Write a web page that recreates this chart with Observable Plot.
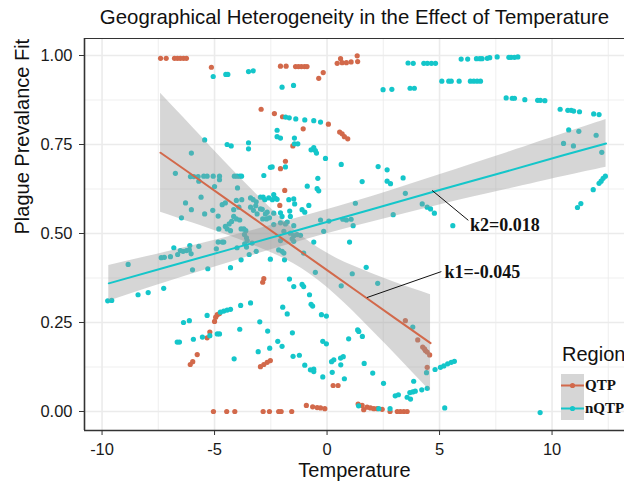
<!DOCTYPE html>
<html><head><meta charset="utf-8">
<script src="https://cdn.jsdelivr.net/npm/d3@7"></script>
<script src="https://cdn.jsdelivr.net/npm/@observablehq/plot@0.6"></script>
<style>
html,body{margin:0;padding:0;background:#fff;overflow:hidden}
#wrap{position:relative;width:624px;height:481px;overflow:hidden;font-family:"Liberation Sans",Arial,sans-serif}
#legend{position:absolute;left:561px;top:343px;width:80px}
#legend .ttl{font-size:20px;color:#111;line-height:22px;margin-bottom:9px;margin-left:1px}
#legend .row{display:flex;align-items:center;height:23px}
#legend .lab{font-family:"Liberation Serif","Times New Roman",serif;font-weight:bold;font-size:15px;color:#111;margin-left:1px}
</style></head><body><div id="wrap"></div>
<script>
const title = "Geographical Heterogeneity in the Effect of Temperature";
const xLabel = "Temperature";
const yLabel = "Plague Prevalance Fit";
const regions = ["QTP", "nQTP"];
const colors = ["#D2694B", "#14C6CA"];
const xTicks = [-10, -5, 0, 5, 10];
const xMinor = [-7.5, -2.5, 2.5, 7.5, 12.5];
const yTicks = [0, 0.25, 0.5, 0.75, 1];
const yMinor = [0.125, 0.375, 0.625, 0.875];
const xDomain = [-10.78, 13.22];
const yDomain = [-0.0534, 1.0478];

// QTP points [temperature, fit]
const qtpPts = [
[-7.40,0.992],[-7.15,0.992],[-6.78,0.992],[-6.65,0.992],[-6.52,0.992],[-6.38,0.992],[-6.25,0.992],
[-5.14,0.967],[-2.93,0.849],[-2.07,0.970],[-1.82,0.970],[-1.40,0.969],[-1.27,0.969],[-1.14,0.969],[-1.00,0.969],[-0.89,0.969],
[-0.37,0.936],[-0.17,0.952],[0.45,0.978],[0.60,0.991],[0.67,0.980],[0.86,0.980],[1.07,0.982],[1.34,0.999],[1.36,0.983],
[-2.34,0.837],[-1.98,0.828],[0.06,0.807],[-1.06,0.794],[0.56,0.785],[0.67,0.780],[0.77,0.772],[0.92,0.766],
[-1.52,0.746],[-1.85,0.703],[-2.07,0.682],[-1.88,0.621],[-2.10,0.579],[-2.81,0.373],[-2.86,0.363],
[3.48,0.255],[4.03,0.201],[4.25,0.181],[4.33,0.176],[4.37,0.171],[4.45,0.167],[4.56,0.159],[4.45,0.124],
[-2.52,0.143],[-2.66,0.138],[-2.81,0.132],[-2.96,0.126],[0.27,0.073],[0.49,0.073],
[-2.84,0],[-2.56,0],[-2.15,0],[-2.04,0],[-1.57,0],
[-0.92,0.017],[-0.64,0.013],[-0.44,0.011],[-0.29,0.010],[-0.10,0.008],
[1.38,0.021],[1.56,0.017],[1.63,0.005],[1.78,0.012],[1.93,0.010],[2.08,0.008],[2.23,0.008],[2.45,0.006],
[2.80,0],[3.12,0],[3.26,0],[3.41,0],[3.56,0],
[-5.00,0.253],[-4.95,0.265],[-4.88,0.272],[-4.78,0.275],[-5.33,0.207],[-5.21,0.223],
[-6.08,0.132],[-5.97,0.140],[-5.77,0.160],[-5.05,0],[-4.46,0],[-4.10,0]
];

// nQTP points [temperature, fit]
const nqtpPts = [
[-5.06,0.941],[-4.50,0.947],[-4.41,0.947],[-3.49,0.955],[-3.28,0.957],
[-5.44,0.763],[-6.03,0.726],[-4.44,0.750],[-4.26,0.746],[-3.49,0.755],[-3.49,0.738],[-2.52,0.686],
[-2.00,0.911],[-1.49,0.916],
[3.60,0.979],[3.83,0.978],[4.30,0.978],[4.46,0.978],[4.64,0.978],[4.82,0.978],
[2.49,0.904],[2.88,0.905],[3.69,0.908],[3.88,0.908],
[5.10,0.928],[5.41,0.928],[5.52,0.928],[5.87,0.928],[6.37,0.928],[6.52,0.928],[6.67,0.928],[6.82,0.928],
[5.96,0.990],[6.25,0.990],[6.64,0.991],[6.79,0.991],[6.89,0.991],[7.12,0.992],[7.23,0.994],[7.56,0.996],[8.08,0.995],[8.18,0.995],[8.33,0.995],[8.48,0.996],
[7.96,0.881],[8.23,0.880],[8.33,0.880],[8.79,0.876],[9.36,0.874],[9.48,0.874],[9.68,0.873],
[10.36,0.849],[10.70,0.846],[10.85,0.846],[10.96,0.844],[11.22,0.842],[11.85,0.836],[12.09,0.834],
[10.74,0.791],[11.19,0.787],[10.51,0.753],[10.95,0.746],[11.96,0.776],[12.21,0.728],
[12.37,0.661],[12.27,0.655],[12.18,0.647],[12.09,0.641],[11.83,0.623],[11.28,0.584],[11.13,0.573],
[5.59,0.522],
[5.66,0.141],[5.52,0.138],[5.36,0.134],[5.19,0.128],[5.04,0.124],[4.80,0.118],[4.42,0.109],
[5.23,0.010],[9.47,-0.003],[3.81,0.237],
[3.03,0.044],[3.17,0.047],[3.56,0.040],[3.68,0.053],[3.81,0.055],[3.92,0.057],[3.71,0.035],[3.85,0.085],[4.21,0.061],[4.45,0.065],
[1.40,0.016],[2.30,0.008],[2.80,0.008],[1.65,0.135],[2.03,0.108],[2.51,0.079],
[0.77,0.092],[0.61,0.131],[0.72,0.154],[0.60,0.150],[0.30,0.145],[0.20,0.140],[0.23,0.110],[-0.19,0.097],[-0.59,0.112],[-0.59,0.119],[-0.74,0.117],[-0.99,0.130],[-1.23,0.158],[-1.51,0.155],
[-2.64,0.226],[-1.54,0.221],[-2.19,0.197],[-2.00,0.183],[-2.55,0.178],[-0.19,0.197],[-0.03,0.190],
[0.96,0.204],[1.36,0.229],[1.41,0.225],[1.57,0.211],
[-0.78,0.328],[-0.71,0.301],[-0.64,0.296],[-1.77,0.274],[-1.97,0.293],[-0.25,0.272],[-0.03,0.268],
[-9.75,0.311],[-9.57,0.312],[-8.40,0.328],[-7.95,0.334],[-7.26,0.346],
[-6.38,0.250],[-6.12,0.255],[-5.33,0.270],[-4.74,0.279],[-4.59,0.282],[-4.44,0.285],[-4.29,0.287],[-3.84,0.298],[-3.40,0.305],[-2.99,0.252],[-3.88,0.231],
[-6.66,0.195],[-6.56,0.195],[-5.94,0.203],[-5.54,0.209],[-5.21,0.213],[-4.88,0.218],[-4.78,0.218],[-4.13,0.148],[-3.06,0.168],
[-6.74,0.669],[-6.07,0.660],[-5.92,0.660],[-5.73,0.660],[-5.70,0.647],[-5.48,0.661],[-5.33,0.661],[-5.06,0.661],[-4.78,0.661],[-4.78,0.651],
[-4.12,0.661],[-4.00,0.661],[-3.88,0.661],[-3.80,0.661],[-3.98,0.628],[-2.81,0.663],[-5.00,0.632],[-5.60,0.602],
[-6.29,0.586],[-6.03,0.567],[-5.44,0.555],[-5.08,0.565],[-6.47,0.544],[-4.84,0.549],[-4.66,0.581],[-4.52,0.586],
[-4.03,0.593],[-3.79,0.595],[-3.92,0.574],[-4.15,0.567],[-3.40,0.600],[-3.28,0.595],[-3.15,0.589],[-2.84,0.602],[-2.77,0.595],[-3.17,0.578],[-3.40,0.574],[-3.27,0.565],[-3.11,0.555],[-2.88,0.568],[-2.74,0.555],[-2.86,0.541],[-2.69,0.541],[-2.56,0.544],
[-4.15,0.548],[-4.03,0.541],[-3.88,0.538],[-4.24,0.534],[-4.35,0.527],[-4.52,0.520],[-4.44,0.513],[-4.29,0.508],[-4.81,0.513],[-3.82,0.513],[-3.70,0.513],[-3.61,0.508],[-3.67,0.497],[-3.58,0.488],[-3.55,0.480],[-3.33,0.473],[-3.58,0.462],
[-4.84,0.476],[-4.66,0.476],[-4.59,0.476],[-4.92,0.457],[-4.00,0.460],[-3.66,0.471],[-6.81,0.460],[-6.52,0.452],[-6.40,0.450],[-6.25,0.452],[-6.12,0.454],[-6.04,0.443],[-5.70,0.464],[-6.10,0.466],
[-7.37,0.432],[-7.23,0.433],[-6.96,0.435],[-6.64,0.441],[-5.98,0.398],[-5.30,0.401],[-4.29,0.404],[-3.82,0.426],[-3.46,0.441],[-3.15,0.450],[-8.84,0.413],
[-0.41,0.655],[-0.88,0.633],[-0.44,0.626],[-0.37,0.620],[2.67,0.647],[2.82,0.640],[3.38,0.656],[1.56,0.646],
[2.27,0.688],[2.67,0.679],[0.63,0.694],[-2.44,0.687],[-1.85,0.687],[-0.07,0.711],[-0.71,0.735],[-0.59,0.741],[-0.52,0.733],[-0.47,0.726],
[-2.22,0.790],[-2.22,0.772],[-2.07,0.768],[-1.45,0.768],[-1.45,0.752],[-1.30,0.752],[-1.84,0.827],[-1.68,0.825],[-1.39,0.822],[-0.99,0.819],[-0.59,0.817],[-0.29,0.813],
[-2.96,0.602],[-2.37,0.609],[-2.29,0.599],[-2.59,0.600],[-2.43,0.595],[-2.22,0.596],[-1.70,0.595],[-1.48,0.597],[-1.44,0.583],[-1.66,0.563],[-1.11,0.567],[-0.99,0.560],[-0.81,0.579],
[-2.96,0.569],[-2.66,0.560],[-2.37,0.557],[-2.07,0.558],[-2.00,0.548],[-1.63,0.548],[-2.37,0.525],[-2.07,0.530],[-1.85,0.527],[-1.77,0.532],[-1.48,0.522],
[-1.92,0.506],[-1.63,0.501],[-1.48,0.494],[-1.33,0.497],[-1.18,0.495],[-1.55,0.485],[-1.48,0.478],[-2.07,0.480],[-2.15,0.454],[-2.00,0.450],[-1.92,0.445],[-1.89,0.426],[-2.52,0.428],[-1.04,0.445],[-0.59,0.476],[-0.52,0.391],
[-0.29,0.538],[-0.15,0.506],[0.08,0.535],[0.70,0.540],[0.86,0.538],[1.07,0.540],[1.16,0.522],[1.26,0.585],[1.00,0.476],[1.74,0.405],[1.12,0.387],[2.25,0.360],[0.63,0.353],
[-1.67,0.372],[-1.48,0.351],[-1.11,0.357],[-1.04,0.351],
[3.48,0.613],[4.23,0.583],[4.45,0.574],[4.60,0.569],[4.77,0.557],[2.94,0.553]
];

// fitted lines with confidence bands, read at several temperatures
const qtpBandX   = [-7.4, -6, -4.5, -3, -1.5, 0, 1.5, 3, 4.6];
const qtpFit     = [0.727, 0.665, 0.598, 0.531, 0.464, 0.397, 0.330, 0.263, 0.192];
const qtpLo      = [0.560, 0.530, 0.497, 0.460, 0.416, 0.349, 0.260, 0.163, 0.056];
const qtpHi      = [0.894, 0.800, 0.699, 0.602, 0.513, 0.445, 0.400, 0.363, 0.328];
const nqtpBandX  = [-9.7, -7, -4, -1, 2, 5, 8, 10.5, 12.4];
const nqtpFit    = [0.360, 0.408, 0.461, 0.515, 0.568, 0.622, 0.675, 0.720, 0.753];
const nqtpLo     = [0.310, 0.366, 0.425, 0.482, 0.532, 0.580, 0.624, 0.660, 0.686];
const nqtpHi     = [0.410, 0.450, 0.497, 0.549, 0.604, 0.665, 0.727, 0.780, 0.820];

// slope annotations
const annLabels = ["k2=0.018", "k1=-0.045"];
const annTextX = [6.35, 5.22];
const annTextY = [0.524, 0.392];
const annFromX = [4.67, 1.77];
const annFromY = [0.621, 0.320];
const annToX = [6.28, 5.08];
const annToY = [0.537, 0.393];

const band = (xs, fit, lo, hi) => xs.map((x, i) => ({x, fit: fit[i], lo: lo[i], hi: hi[i]}));
const qtpBand = band(qtpBandX, qtpFit, qtpLo, qtpHi);
const nqtpBand = band(nqtpBandX, nqtpFit, nqtpLo, nqtpHi);
const ann = annLabels.map((t, i) => ({t, x: annTextX[i], y: annTextY[i], x1: annFromX[i], y1: annFromY[i], x2: annToX[i], y2: annToY[i]}));

const gridColor = "#ebebeb";
const dark = "#333333";

const chart = Plot.plot({
  width: 624, height: 481,
  marginLeft: 84, marginRight: 0, marginTop: 38, marginBottom: 51,
  style: {fontFamily: "'Liberation Sans', Arial, sans-serif", fontSize: "16.5px", color: "#1a1a1a", background: "#fff"},
  x: {domain: xDomain},
  y: {domain: yDomain},
  marks: [
    Plot.gridX(xMinor, {stroke: gridColor, strokeOpacity: 1, strokeWidth: 0.8}),
    Plot.gridY(yMinor, {stroke: gridColor, strokeOpacity: 1, strokeWidth: 0.8}),
    Plot.gridX(xTicks, {stroke: gridColor, strokeOpacity: 1, strokeWidth: 1.6}),
    Plot.gridY(yTicks, {stroke: gridColor, strokeOpacity: 1, strokeWidth: 1.6}),
    Plot.dot(qtpPts, {x: d => d[0], y: d => d[1], r: 2.6, fill: colors[0]}),
    Plot.dot(nqtpPts, {x: d => d[0], y: d => d[1], r: 2.6, fill: colors[1]}),
    Plot.areaY(qtpBand, {x: "x", y1: "lo", y2: "hi", fill: "#999999", fillOpacity: 0.4, curve: "natural"}),
    Plot.areaY(nqtpBand, {x: "x", y1: "lo", y2: "hi", fill: "#999999", fillOpacity: 0.4, curve: "natural"}),
    Plot.line(qtpBand, {x: "x", y: "fit", stroke: colors[0], strokeWidth: 2}),
    Plot.line(nqtpBand, {x: "x", y: "fit", stroke: colors[1], strokeWidth: 2}),
    Plot.link(ann, {x1: "x1", y1: "y1", x2: "x2", y2: "y2", stroke: "#111", strokeWidth: 1}),
    Plot.text(ann, {x: "x", y: "y", text: "t", textAnchor: "start", fontFamily: "'Liberation Serif', 'Times New Roman', serif", fontWeight: "bold", fontSize: 18, fill: "#111"}),
    Plot.ruleX([xDomain[0]], {stroke: dark, strokeWidth: 1.6}),
    Plot.ruleY([yDomain[0]], {stroke: dark, strokeWidth: 1.6}),
    Plot.ruleY([yDomain[1]], {stroke: dark, strokeWidth: 1.2}),
    Plot.axisX(xTicks, {tickSize: 5, tickPadding: 8, label: null, tickFormat: d => String(d), stroke: dark, fill: "#1a1a1a", fontSize: 16.5}),
    Plot.axisY(yTicks, {tickSize: 5, tickPadding: 7, label: null, tickFormat: d3.format(".2f"), stroke: dark, fill: "#1a1a1a", fontSize: 16.5}),
    Plot.text([xLabel], {frameAnchor: "bottom", dy: 46, fontSize: 20, fill: "#111"}),
    Plot.text([yLabel], {frameAnchor: "left", dx: -62, rotate: -90, fontSize: 20, fill: "#111"}),
    Plot.text([title], {frameAnchor: "top", dy: -29, fontSize: 20.4, fill: "#111"})
  ]
});

const wrap = document.getElementById("wrap");
wrap.appendChild(chart);

// legend
const leg = document.createElement("div");
leg.id = "legend";
let html = '<div class="ttl">Region</div><div style="position:relative">';
html += '<div style="position:absolute;left:0;top:0;width:23px;height:46px;background:#d6d6d6"></div>';
regions.forEach((r, i) => {
  html += `<div class="row" style="position:relative"><svg width="23" height="23" style="display:block"><line x1="0" x2="23" y1="11.5" y2="11.5" stroke="${colors[i]}" stroke-width="2"/><circle cx="11.5" cy="11.5" r="2.6" fill="${colors[i]}"/></svg><span class="lab">${r}</span></div>`;
});
html += '</div>';
leg.innerHTML = html;
wrap.appendChild(leg);
</script>
</body></html>
